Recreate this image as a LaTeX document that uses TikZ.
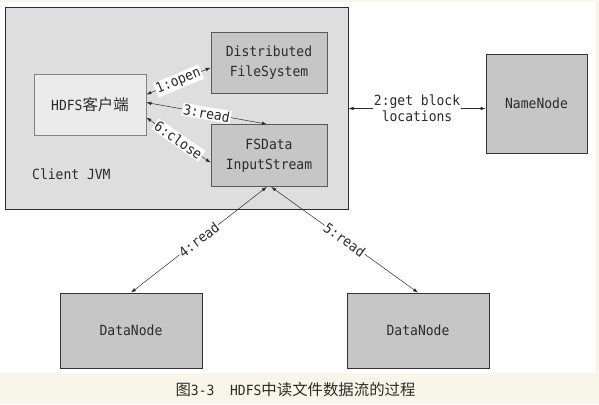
\documentclass[tikz,border=0pt]{standalone}
\usepackage{fontspec}
\setmainfont[FakeStretch=0.93]{DejaVu Sans Mono}
\newfontfamily\cjk[Scale=1.1]{Noto Sans CJK SC}
\usetikzlibrary{arrows.meta}
\definecolor{cream}{HTML}{F8F5E9}
\definecolor{jvmgray}{HTML}{DEDEDE}
\definecolor{cligray}{HTML}{EBEBEB}
\definecolor{boxgray}{HTML}{C6C6C6}
\definecolor{ink}{HTML}{2B2B2B}
\tikzset{
  txt/.style={font=\fontsize{14}{20}\selectfont, text=ink},
  jvmbox/.style={draw=ink, line width=1pt, fill=jvmgray},
  clibox/.style={txt, draw=gray, line width=0.7pt, fill=cligray,
    minimum width=112pt, minimum height=61pt, inner sep=0pt},
  srvbox/.style={txt, draw=black!65, line width=0.8pt, fill=boxgray,
    align=center, inner sep=0pt},
  link/.style={draw=ink, line width=0.5pt,
    {Latex[length=5pt,width=3.5pt]}-{Latex[length=5pt,width=3.5pt]}},
  tag/.style={txt, midway, sloped, fill=white, inner sep=1pt}
}
\begin{document}
\begin{tikzpicture}[x=1pt,y=-1pt]
\fill[cream] (0,0) rectangle (599,404);
\fill[white] (0,2) rectangle (595,373);
% client JVM
\node[jvmbox, minimum width=343pt, minimum height=201pt] (jvm) at (176.5,108.5) {};
\node[txt, anchor=west, inner sep=0pt] (jvmname) at (32,174) {Client JVM};
\node[clibox] (client) at (90,104.5) {HDFS{\cjk 客户端}};
\node[srvbox, minimum width=116pt, minimum height=61pt] (dfs) at (269,62.5) {Distributed\\FileSystem};
\node[srvbox, minimum width=116pt, minimum height=62pt] (fsin) at (269,155.5) {FSData\\InputStream};
% servers
\node[srvbox, draw=black!80, minimum width=101pt, minimum height=99pt] (nn) at (536.5,103.5) {NameNode};
\node[srvbox, draw=black!80, minimum width=142pt, minimum height=75pt] (dn1) at (131,330.5) {DataNode};
\node[srvbox, draw=black!80, minimum width=142pt, minimum height=75pt] (dn2) at (418,330.5) {DataNode};
% calls
\draw[link] (client.10) -- (dfs.185) node[tag] {1:open};
\draw[link] (jvm.east) -- (jvm.east -| nn.west)
  node[txt, midway, fill=white, inner sep=1pt, align=center,
       font=\fontsize{14}{16}\selectfont] {2:get block\\locations};
\draw[link] (client.2) -- (fsin.94) node[tag] {3:read};
\draw[link] (fsin.266) -- (dn1.north) node[tag] {4:read};
\draw[link] (fsin.274) -- (dn2.north) node[tag] {5:read};
\draw[link] (client.-13) -- (fsin.187) node[tag] {6:close};
% caption
\node[txt] (cap) at (295.5,390) {{\cjk 图}3-3\ \ HDFS{\cjk 中读文件数据流的过程}};
\end{tikzpicture}
\end{document}
